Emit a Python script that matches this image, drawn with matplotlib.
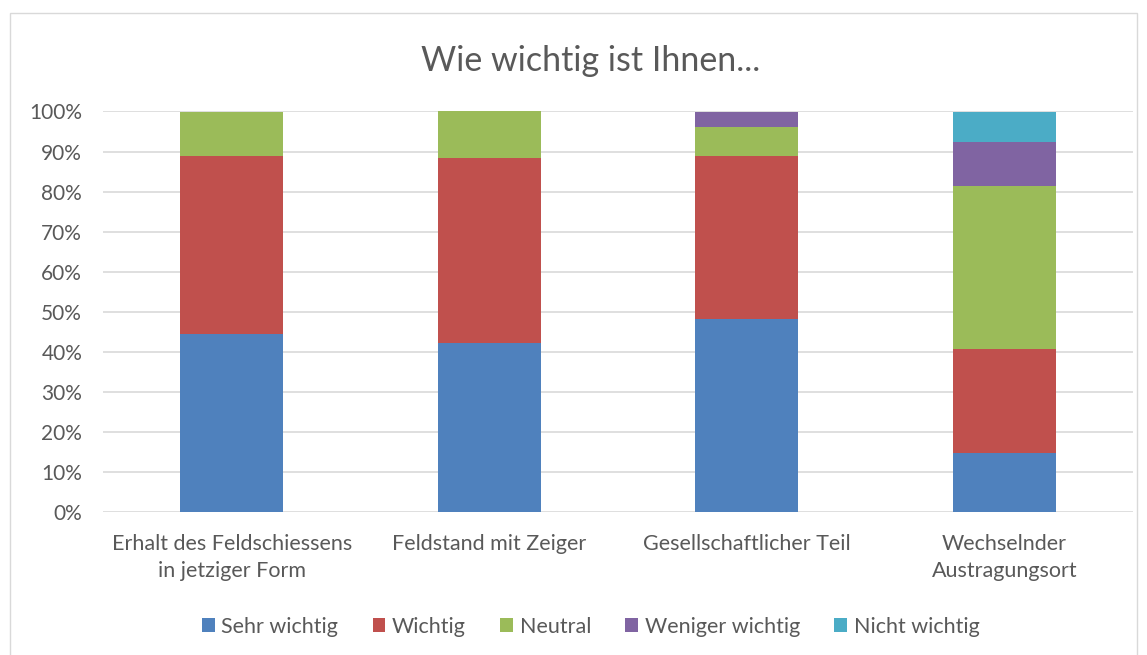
import matplotlib.pyplot as plt
from matplotlib.patches import Rectangle
from matplotlib.ticker import PercentFormatter

categories = ["Erhalt des Feldschiessens\nin jetziger Form", "Feldstand mit Zeiger",
              "Gesellschaftlicher Teil", "Wechselnder\nAustragungsort"]
series = ["Sehr wichtig", "Wichtig", "Neutral", "Weniger wichtig", "Nicht wichtig"]
sehr_wichtig = [44.4, 42.3, 48.1, 14.8]
wichtig = [44.4, 46.2, 40.7, 25.9]
neutral = [11.1, 11.5, 7.4, 40.7]
weniger_wichtig = [0.0, 0.0, 3.7, 11.1]
nicht_wichtig = [0.0, 0.0, 0.0, 7.4]
colors = ["#4F81BD", "#C0504D", "#9BBB59", "#8064A2", "#4BACC6"]

plt.rcParams['font.family'] = ['Lato', 'DejaVu Sans']
text_col = "#595959"

fig = plt.figure(figsize=(11.47, 6.55), dpi=100)
ax = fig.add_axes([0.0898, 0.2183, 0.8980, 0.6115])

x = range(len(categories))
bottom = [0.0] * len(categories)
for name, vals, c in zip(series, [sehr_wichtig, wichtig, neutral, weniger_wichtig, nicht_wichtig], colors):
    ax.bar(x, vals, width=0.4, bottom=bottom, color=c, label=name, zorder=3)
    bottom = [b + v for b, v in zip(bottom, vals)]

ax.set_xlim(-0.5, 3.5)
ax.set_ylim(0, 100)
ax.set_yticks(range(0, 101, 10))
ax.yaxis.set_major_formatter(PercentFormatter(decimals=0))
ax.grid(axis="y", color="#D9D9D9", linewidth=1.2, zorder=0)
for s in ax.spines.values():
    s.set_visible(False)
ax.tick_params(axis="y", length=0, labelsize=15, colors=text_col, pad=15)
ax.tick_params(axis="x", length=0, labelsize=15.5, colors=text_col, pad=16)
ax.set_xticks(list(x))
ax.set_xticklabels(categories, linespacing=1.45)

fig.suptitle("Wie wichtig ist Ihnen...", x=0.515, y=0.932, fontsize=24.5, color=text_col)

leg = fig.legend(loc="center", bbox_to_anchor=(0.515, 0.043), ncol=5, frameon=False,
                 fontsize=15.5, handlelength=0.6, handleheight=0.6, handletextpad=0.3,
                 columnspacing=1.6)
for t in leg.get_texts():
    t.set_color(text_col)

fig.patches.append(Rectangle((10 / 1147, -0.02), 1127 / 1147, 1 - 13 / 655 + 0.02,
                             transform=fig.transFigure, fill=False,
                             edgecolor="#D9D9D9", linewidth=1))

fig.savefig("out.png", dpi=100)
